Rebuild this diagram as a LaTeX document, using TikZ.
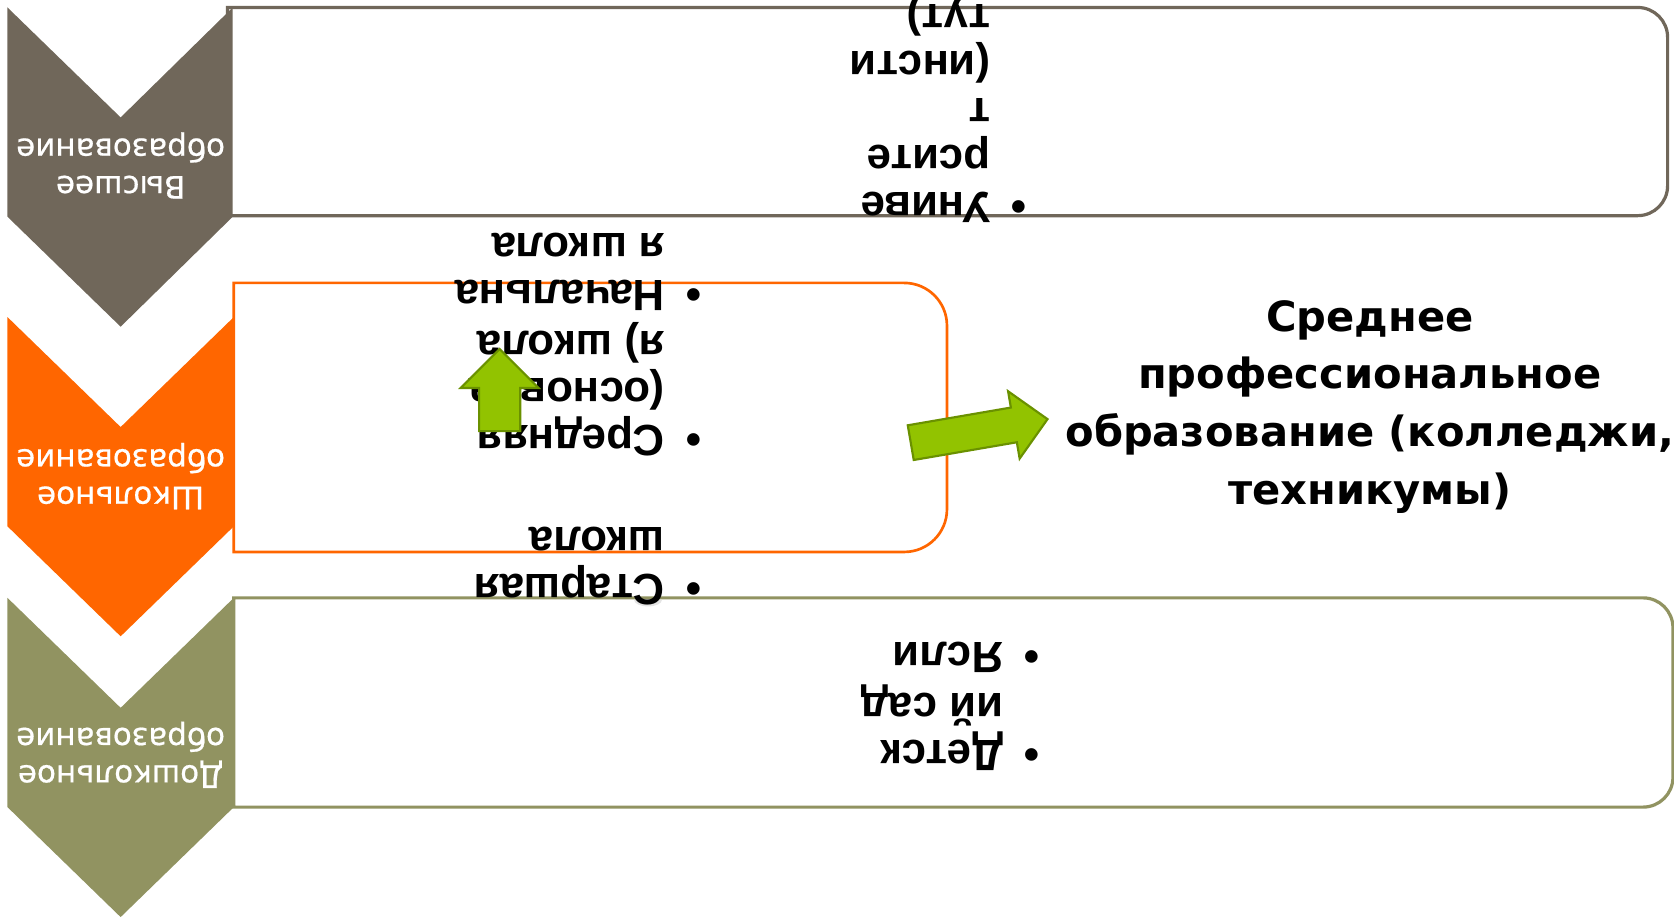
\documentclass[tikz,border=0pt]{standalone}
\usepackage{fontspec}
\setmainfont{Liberation Sans}
\newfontfamily\gothfont{DejaVu Sans}
\newfontfamily\levelfont[FakeBold=0.6]{DejaVu Sans}
\usetikzlibrary{shapes.arrows}
\definecolor{hiGray}{RGB}{112,103,90}
\definecolor{schOrange}{RGB}{255,102,0}
\definecolor{preOlive}{RGB}{145,147,97}
\definecolor{arrGreen}{RGB}{146,195,0}
\definecolor{arrEdge}{RGB}{106,145,0}
\definecolor{blobGray}{RGB}{228,228,228}
\tikzstyle{every node}+=[inner sep=0pt]
\tikzstyle{box} = [line width=3pt, fill=white]
\tikzstyle{level} = [rotate=180, align=center, text=white, font=\levelfont\fontsize{29}{35}\selectfont]
\tikzstyle{item} = [rotate=180, anchor=north west, align=left, font=\fontsize{41}{44}\selectfont\bfseries]
\tikzstyle{bigarrow} = [single arrow, draw=arrEdge, fill=arrGreen, line width=2pt, inner xsep=0pt]
\newcommand{\bul}{\makebox[34pt][l]{•}}
\newcommand{\ind}{\hspace*{34pt}}

\begin{document}
\begin{tikzpicture}[x=1pt, y=-1pt]
  \useasboundingbox (0,0) rectangle (1568,861);
  % Boxes
  \draw[box, draw=hiGray] (213,7) -- (1534,7) arc[start angle=90, end angle=0, radius=28pt]
    -- (1562,174) arc[start angle=0, end angle=-90, radius=28pt] -- (213,202) -- cycle;
  \draw[box, draw=schOrange, line width=2.5pt] (219,265) -- (847,265) arc[start angle=90, end angle=0, radius=40pt]
    -- (887,477) arc[start angle=0, end angle=-90, radius=40pt] -- (219,517) -- cycle;
  \draw[box, draw=preOlive] (219,560) -- (1539,560) arc[start angle=90, end angle=0, radius=28pt]
    -- (1567,728) arc[start angle=0, end angle=-90, radius=28pt] -- (219,756) -- cycle;
  \fill[blobGray] (594,562) arc[start angle=180, end angle=360, x radius=13pt, y radius=6pt];
  % Chevrons
  \fill[hiGray] (7,7) -- (113,110) -- (218,7) -- (218,203) -- (113,306) -- (7,203) -- cycle;
  \fill[schOrange] (7,297) -- (113,400) -- (219,297) -- (219,493) -- (113,596) -- (7,493) -- cycle;
  \fill[preOlive] (7,560) -- (113,663) -- (219,560) -- (219,756) -- (113,859) -- (7,756) -- cycle;
  \node[level] (hi) at (113,155) {Высшее\\образование};
  \node[level] (sch) at (113,446) {Школьное\\образование};
  \node[level] (pre) at (113,707) {Дошкольное\\образование};
  % Items
  \node[item] (uni) at (962,209) {\bul Униве\\\ind рсите\\\ind т\\\ind (инсти\\\ind тут)};
  \node[item] (senior) at (657,567) {\bul Старшая\\\ind школа};
  \node[item] (middle) at (657,427) {\bul Средняя\\\ind (основна\\\ind я) школа};
  \node[item] (primary) at (657,291) {\bul Начальна\\\ind я школа};
  \node[item] (kinder) at (974,722) {\bul Детск\\\ind ий сад};
  \node[item] (nursery) at (974,630) {\bul Ясли};
  \node[align=center, font=\gothfont\bfseries\fontsize{39}{54}\selectfont] (spo) at (1283,381)
    {Среднее\\профессиональное\\образование (колледжи,\\техникумы)};
  % Arrows
  \node[bigarrow, rotate=90, minimum height=77pt, inner ysep=18.25pt, single arrow head extend=17.25pt] (up) at (468,375) {};
  \node[bigarrow, rotate=9.75, minimum height=130pt, inner ysep=15.5pt, single arrow head extend=15.5pt] (out) at (909,405) {};
\end{tikzpicture}
\end{document}
